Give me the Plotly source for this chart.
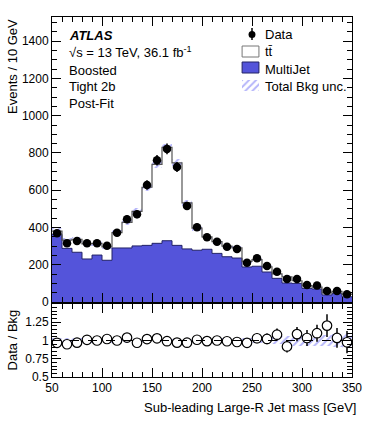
import numpy as np
import plotly.graph_objects as go

# bins of 10 GeV, 50 -> 350
bin_lo = list(range(50, 350, 10))
bin_centers = [b + 5 for b in bin_lo]

data = [369, 315, 327, 315, 315, 302, 372, 444, 471, 628, 761, 822, 725, 516, 401,
        347, 324, 297, 285, 211, 235, 193, 163, 124, 124, 91, 88, 59, 59, 41]
multijet = [363, 288, 267, 231, 252, 224, 290, 290, 301, 304, 315, 329, 304, 285, 278,
            283, 261, 243, 236, 188, 192, 161, 127, 102, 100, 73, 70, 38, 47, 28]
ttbar = [18, 44, 70, 81, 63, 72, 82, 137, 185, 312, 424, 501, 443, 247, 119,
         67, 63, 57, 55, 30, 36, 28, 24, 33, 14, 15, 10, 11, 10, 14]
# relative total background uncertainty per bin
bkg_rel_unc = [0.04, 0.04, 0.04, 0.04, 0.04, 0.04, 0.035, 0.035, 0.035, 0.03, 0.025, 0.025, 0.025, 0.03, 0.035,
               0.035, 0.035, 0.035, 0.035, 0.04, 0.04, 0.045, 0.05, 0.06, 0.07, 0.07, 0.08, 0.08, 0.09, 0.1]

data = np.array(data, float)
multijet = np.array(multijet, float)
ttbar = np.array(ttbar, float)
rel = np.array(bkg_rel_unc)
total = multijet + ttbar
data_err = np.sqrt(data)
ratio = data / total
ratio_err = data_err / total

edges = bin_lo + [350]
BLUE = "#5454DA"
HATCH = "#6a6af5"
hatch = dict(shape="/", fgcolor=HATCH, bgcolor="rgba(0,0,0,0)", size=5, solidity=0.4)

# plot area in pixels (figure 374x421)
L, R, T, B = 52, 355, 17, 377
def px(x):
    return (x - L) / (R - L)
def py(y):
    return (B - y) / (B - T)

fig = go.Figure()

# multijet filled step
fig.add_trace(go.Scatter(x=edges, y=list(multijet) + [multijet[-1]], mode="lines",
                         line=dict(shape="hv", color="#222266", width=1),
                         fill="tozeroy", fillcolor=BLUE, xaxis="x", yaxis="y",
                         showlegend=False, hoverinfo="skip"))
# total step (ttbar on top)
fig.add_trace(go.Scatter(x=edges, y=list(total) + [total[-1]], mode="lines",
                         line=dict(shape="hv", color="#555555", width=1.2),
                         xaxis="x", yaxis="y", showlegend=False, hoverinfo="skip"))
# uncertainty band
fig.add_trace(go.Bar(x=bin_centers, y=2 * total * rel, base=total * (1 - rel), width=10,
                     marker=dict(color="rgba(0,0,0,0)", line=dict(width=0), pattern=hatch),
                     xaxis="x", yaxis="y", showlegend=False, hoverinfo="skip"))
# data
fig.add_trace(go.Scatter(x=bin_centers, y=data, mode="markers",
                         marker=dict(color="black", size=8.5),
                         error_y=dict(type="data", array=data_err, color="black", thickness=1.5, width=0),
                         xaxis="x", yaxis="y", showlegend=False))

# ratio band
fig.add_trace(go.Bar(x=bin_centers, y=2 * rel, base=1 - rel, width=10,
                     marker=dict(color="rgba(0,0,0,0)", line=dict(width=0), pattern=hatch),
                     xaxis="x2", yaxis="y2", showlegend=False, hoverinfo="skip"))
fig.add_trace(go.Scatter(x=bin_centers, y=ratio, mode="markers",
                         marker=dict(color="white", size=9.5, line=dict(color="black", width=1.2)),
                         error_y=dict(type="data", array=ratio_err, color="black", thickness=1.5, width=0),
                         xaxis="x2", yaxis="y2", showlegend=False))

# legend hatched box via tiny hidden axis
fig.add_trace(go.Bar(x=[0], y=[1], width=1,
                     marker=dict(color="rgba(0,0,0,0)", line=dict(width=0), pattern=hatch),
                     xaxis="x3", yaxis="y3", showlegend=False, hoverinfo="skip"))

axis_common = dict(showline=True, linecolor="black", linewidth=1, mirror="allticks",
                   ticks="inside", tickcolor="black", showgrid=False, zeroline=False,
                   tickfont=dict(family="Liberation Sans", size=12, color="black"))
main_dom = [py(302), 1]
ratio_dom = [0, py(304)]

fig.update_layout(
    width=374, height=421,
    margin=dict(l=L, r=374 - R, t=T, b=421 - B),
    paper_bgcolor="white", plot_bgcolor="white",
    barmode="overlay", bargap=0,
    font=dict(family="Liberation Sans", size=12, color="black"),
    xaxis=dict(axis_common, domain=[0, 1], range=[50, 350], anchor="y", showticklabels=False,
               dtick=50, tick0=50, ticklen=9, minor=dict(ticks="inside", dtick=10, ticklen=5, tickcolor="black")),
    yaxis=dict(axis_common, domain=main_dom, range=[0, 1530], anchor="x", dtick=200, ticklen=9,
               minor=dict(ticks="inside", dtick=50, ticklen=5, tickcolor="black")),
    xaxis2=dict(axis_common, domain=[0, 1], range=[50, 350], anchor="y2", dtick=50, tick0=50,
                ticklen=9, minor=dict(ticks="inside", dtick=10, ticklen=5, tickcolor="black")),
    yaxis2=dict(axis_common, domain=ratio_dom, range=[0.5, 1.5], anchor="x2",
                tickvals=[0.5, 0.75, 1, 1.25], ticktext=["0.5", "0.75", "1", "1.25"], ticklen=9,
                minor=dict(ticks="inside", dtick=0.05, ticklen=5, tickcolor="black")),
    xaxis3=dict(domain=[px(244), px(261)], range=[-0.5, 0.5], visible=False, anchor="y3"),
    yaxis3=dict(domain=[py(91), py(80)], range=[0, 1], visible=False, anchor="x3"),
)

shapes = [
    dict(type="line", xref="x2", yref="y2", x0=50, x1=350, y0=1, y1=1,
         line=dict(color="black", width=1, dash="dash")),
    # legend boxes
    dict(type="rect", xref="paper", yref="paper", x0=px(244), x1=px(261), y0=py(57), y1=py(46),
         fillcolor="white", line=dict(color="#777777", width=1)),
    dict(type="rect", xref="paper", yref="paper", x0=px(244), x1=px(261), y0=py(73), y1=py(62),
         fillcolor=BLUE, line=dict(color="#222266", width=1)),
    # data legend marker
    dict(type="circle", xref="paper", yref="paper", x0=px(250.5), x1=px(257.5), y0=py(38), y1=py(31),
         fillcolor="black", line=dict(color="black", width=0)),
    dict(type="line", xref="paper", yref="paper", x0=px(254), x1=px(254), y0=py(40), y1=py(28),
         line=dict(color="black", width=1.5)),
]

F = "Liberation Sans"
def label(text, x, y, size=13, **kw):
    return dict(text=text, xref="paper", yref="paper", x=px(x), y=py(y), xanchor="left",
                yanchor="middle", showarrow=False, font=dict(family=F, size=size, color="black"), **kw)

annotations = [
    label("<b><i>ATLAS</i></b>", 67, 35),
    label("\u221as = 13 TeV, 36.1 fb<sup>-1</sup>", 67, 52),
    label("Boosted", 67, 70),
    label("Tight 2b", 67, 87),
    label("Post-Fit", 67, 103),
    label("Data", 265, 34),
    label("tt\u0304", 265, 52),
    label("MultiJet", 265, 69),
    label("Total Bkg unc.", 265, 86),
    dict(text="Events / 10 GeV", xref="paper", yref="paper", x=px(12), y=py(17), textangle=-90,
         xanchor="center", yanchor="top", showarrow=False, font=dict(family=F, size=13, color="black")),
    dict(text="Data / Bkg", xref="paper", yref="paper", x=px(12), y=py(340), textangle=-90,
         xanchor="center", yanchor="middle", showarrow=False, font=dict(family=F, size=13, color="black")),
    dict(text="Sub-leading Large-R Jet mass [GeV]", xref="paper", yref="paper", x=px(361), y=py(407),
         xanchor="right", yanchor="middle", showarrow=False, font=dict(family=F, size=13, color="black")),
]
fig.update_layout(shapes=shapes, annotations=annotations)

fig.write_html("out.html", config={"displayModeBar": False},
               post_script="document.body.style.margin='0';")
